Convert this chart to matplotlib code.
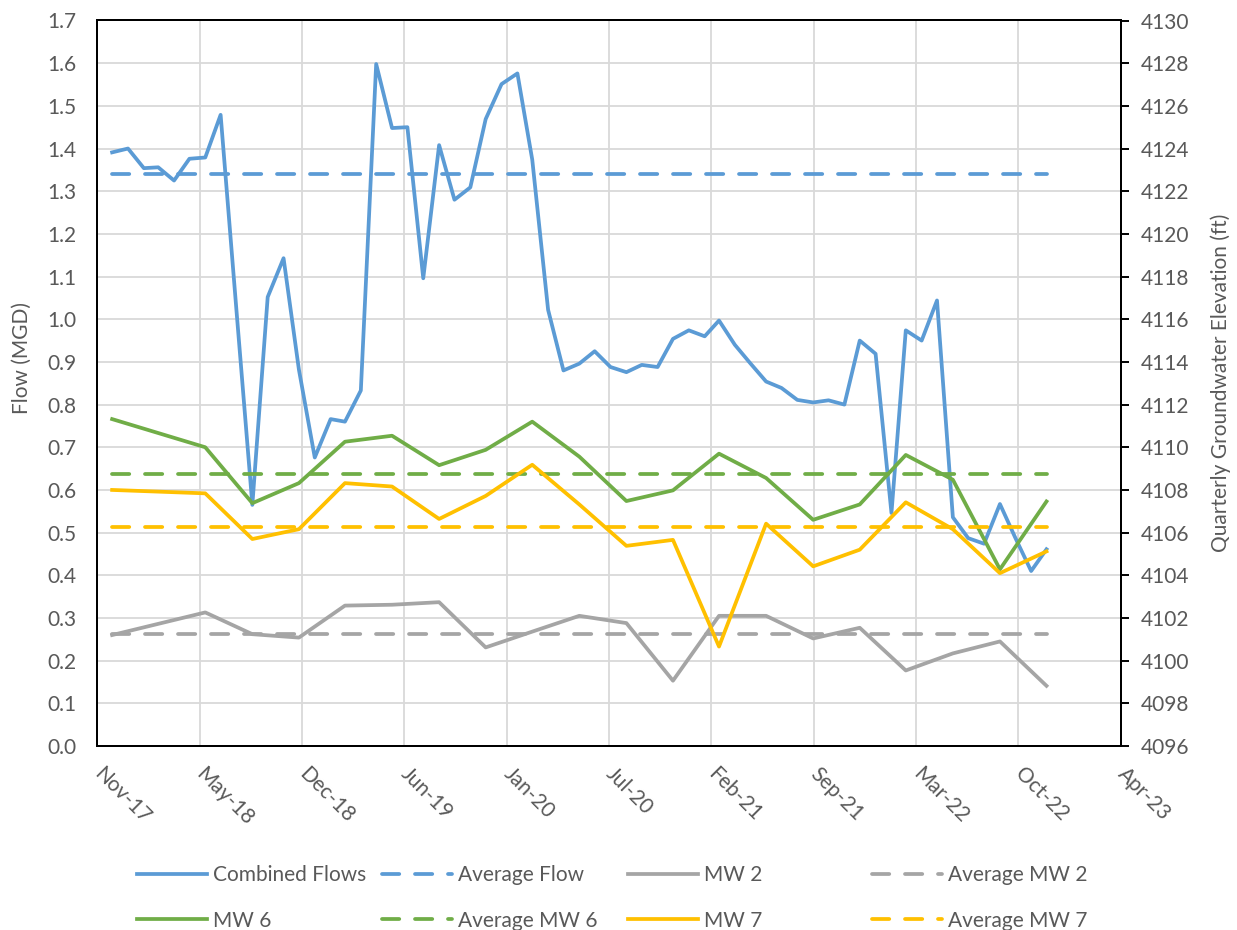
import numpy as np
import pandas as pd
import matplotlib
matplotlib.use("Agg")
import matplotlib.pyplot as plt
import matplotlib.dates as mdates

plt.rcParams['font.family'] = ['Lato', 'DejaVu Sans']

# ---------------- data ----------------
flow_dates = pd.date_range("2017-12-01", periods=61, freq="MS")
combined_flows = [
    1.391, 1.400, 1.354, 1.356, 1.325, 1.376, 1.379, 1.479, 1.020, 0.565,
    1.052, 1.143, 0.882, 0.676, 0.766, 0.760, 0.833, 1.598, 1.448, 1.450,
    1.096, 1.408, 1.280, 1.309, 1.469, 1.551, 1.576, 1.374, 1.022, 0.880,
    0.896, 0.925, 0.888, 0.876, 0.893, 0.888, 0.954, 0.974, 0.960, 0.997,
    0.940, 0.897, 0.854, 0.839, 0.811, 0.805, 0.810, 0.800, 0.950, 0.919,
    0.546, 0.974, 0.950, 1.044, 0.536, 0.487, 0.474, 0.567, 0.488, 0.410,
    0.461,
]
average_flow = 1.341

mw_dates = pd.to_datetime([
    "2017-12-01", "2018-06-01", "2018-09-01", "2018-12-01", "2019-03-01",
    "2019-06-01", "2019-09-01", "2019-12-01", "2020-03-01", "2020-06-01",
    "2020-09-01", "2020-12-01", "2021-03-01", "2021-06-01", "2021-09-01",
    "2021-12-01", "2022-03-01", "2022-06-01", "2022-09-01", "2022-12-01",
])
mw2 = [4101.20, 4102.26, 4101.24, 4101.08, 4102.58, 4102.62, 4102.74, 4100.62,
       4101.36, 4102.10, 4101.76, 4099.06, 4102.10, 4102.10, 4101.04, 4101.54,
       4099.54, 4100.34, 4100.90, 4098.82]
mw6 = [4111.32, 4110.00, 4107.38, 4108.32, 4110.26, 4110.54, 4109.16, 4109.88,
       4111.20, 4109.56, 4107.48, 4107.98, 4109.70, 4108.56, 4106.60, 4107.32,
       4109.64, 4108.48, 4104.28, 4107.46]
mw7 = [4108.00, 4107.84, 4105.70, 4106.16, 4108.32, 4108.16, 4106.64, 4107.72,
       4109.18, 4107.32, 4105.38, 4105.66, 4100.66, 4106.42, 4104.42, 4105.20,
       4107.42, 4106.16, 4104.10, 4105.12]
avg_mw2 = 4101.25
avg_mw6 = 4108.76
avg_mw7 = 4106.27

series_labels = ["Combined Flows", "Average Flow", "MW 2", "Average MW 2",
                 "MW 6", "Average MW 6", "MW 7", "Average MW 7"]

# ---------------- style ----------------
BLUE = "#5B9BD5"
GRAY = "#A5A5A5"
GREEN = "#70AD47"
YELLOW = "#FFC000"
TXT = "#595959"
GRID = "#D9D9D9"
LW = 2.7
DASH = (4.6, 4.2)
FS = 15

fig = plt.figure(figsize=(12.37, 9.30), dpi=100)
W, H = 1237, 930
ax = fig.add_axes([97.3 / W, 1 - 746 / H, (1120.7 - 97.3) / W, (746 - 20.5) / H])
ax2 = ax.twinx()

x0 = pd.Timestamp("2017-11-02")
ticks = [x0 + pd.Timedelta(days=200 * i) for i in range(11)]

# primary
h_cf, = ax.plot(flow_dates, combined_flows, color=BLUE, lw=LW, solid_joinstyle='round', zorder=3)
h_af, = ax.plot([flow_dates[0], flow_dates[-1]], [average_flow, average_flow], color=BLUE,
                lw=LW, dashes=DASH, dash_capstyle='round', zorder=3)
ax.set_ylim(0, 1.7)
ax.set_yticks(np.round(np.arange(0, 1.71, 0.1), 1))
ax.set_yticklabels([f"{v:.1f}" for v in np.arange(0, 1.71, 0.1)])
ax.set_xlim(ticks[0], ticks[-1])
ax.set_xticks(ticks)
ax.xaxis.set_major_formatter(mdates.DateFormatter("%b-%y"))
ax.grid(True, color=GRID, lw=1.3)
ax.set_axisbelow(True)
ax.tick_params(axis='y', length=0, pad=15, labelsize=FS, labelcolor=TXT)
ax.tick_params(axis='x', length=0, pad=18, labelsize=FS, labelcolor=TXT)
for lab in ax.get_xticklabels():
    lab.set_rotation(-45)
    lab.set_ha('left')
    lab.set_va('center')
    lab.set_rotation_mode('anchor')
for s in ax.spines.values():
    s.set_color('black')
    s.set_linewidth(1.4)

# secondary
h_m2, = ax2.plot(mw_dates, mw2, color=GRAY, lw=LW, solid_joinstyle='round')
h_a2, = ax2.plot([mw_dates[0], mw_dates[-1]], [avg_mw2, avg_mw2], color=GRAY, lw=LW,
                 dashes=DASH, dash_capstyle='round')
h_m6, = ax2.plot(mw_dates, mw6, color=GREEN, lw=LW, solid_joinstyle='round')
h_a6, = ax2.plot([mw_dates[0], mw_dates[-1]], [avg_mw6, avg_mw6], color=GREEN, lw=LW,
                 dashes=DASH, dash_capstyle='round')
h_m7, = ax2.plot(mw_dates, mw7, color=YELLOW, lw=LW, solid_joinstyle='round')
h_a7, = ax2.plot([mw_dates[0], mw_dates[-1]], [avg_mw7, avg_mw7], color=YELLOW, lw=LW,
                 dashes=DASH, dash_capstyle='round')
ax2.set_ylim(4096, 4130)
ax2.set_yticks(np.arange(4096, 4131, 2))
ax2.tick_params(axis='y', direction='out', length=5.5, width=1.4, color='black',
                pad=9, labelsize=FS, labelcolor=TXT)
for s in ax2.spines.values():
    s.set_color('black')
    s.set_linewidth(1.4)

fig.text(22 / W, 1 - 358 / H, "Flow (MGD)", rotation=90, ha='center', va='center',
         fontsize=FS, color=TXT)
fig.text(1221 / W, 1 - 383 / H, "Quarterly Groundwater Elevation (ft)", rotation=90,
         ha='center', va='center', fontsize=FS, color=TXT)

# legend: 4 uniform columns, 2 rows
handles = [h_cf, h_af, h_m2, h_a2, h_m6, h_a6, h_m7, h_a7]
col_x = [137, 382, 628, 872]
for c in range(4):
    lg = fig.legend([handles[c], handles[c + 4]], [series_labels[c], series_labels[c + 4]],
                    loc='center left', bbox_to_anchor=(col_x[c] / W, 1 - 898 / H),
                    frameon=False, fontsize=FS, handlelength=3.35, handletextpad=0.3,
                    labelspacing=1.22, borderpad=0, borderaxespad=0)
    for t in lg.get_texts():
        t.set_color(TXT)

fig.savefig("out.png", dpi=100)
